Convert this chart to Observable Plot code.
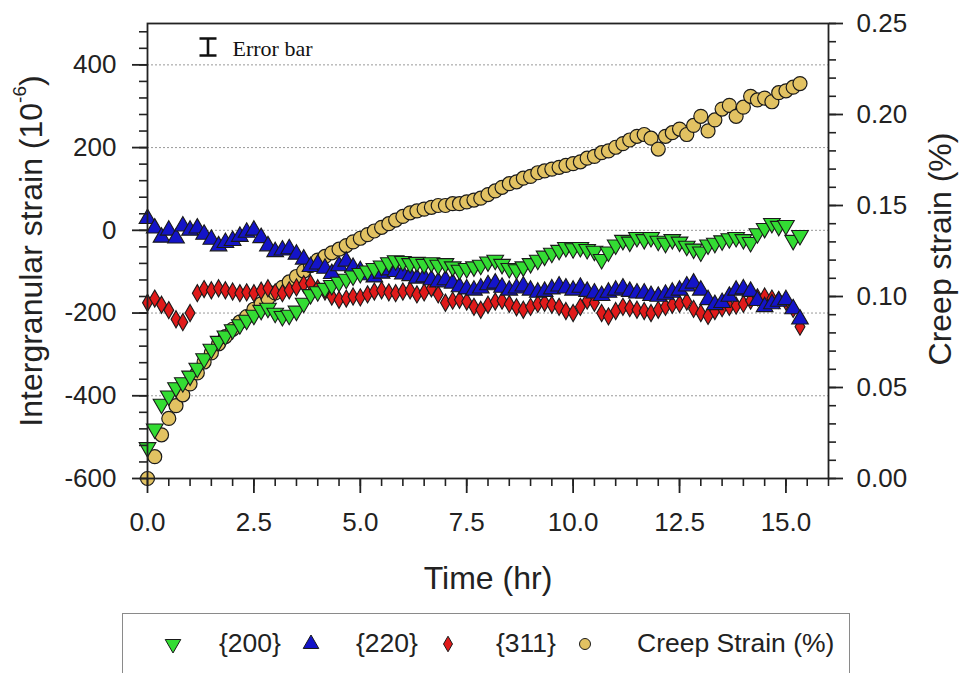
<!DOCTYPE html>
<html>
<head>
<meta charset="utf-8">
<script src="https://cdn.jsdelivr.net/npm/d3@7"></script>
<script src="https://cdn.jsdelivr.net/npm/@observablehq/plot@0.6"></script>
<style>
  body { margin: 0; background: #fff; font-family: "Liberation Sans", Arial, sans-serif; }
  #wrap { position: relative; width: 959px; height: 673px; overflow: hidden; background: #fff; }
  #chart { position: absolute; left: 0; top: 0; }
  #legend { position: absolute; left: 122px; top: 613px; width: 728px; height: 90px; border: 1px solid #8a8a8a; box-sizing: border-box; background: #fff; }
  .sym { position: absolute; top: 20px; width: 20px; height: 20px; }
  .lab { position: absolute; top: 14px; font-size: 26.5px; color: #222; white-space: nowrap; line-height: 30px; }
</style>
</head>
<body>
<div id="wrap">
  <div id="chart"></div>
  <div id="legend"></div>
</div>
<script>
// ---- data ----
const time = [
  0,0.17,0.33,0.5,0.67,0.83,1,1.17,1.33,1.5,
  1.67,1.83,2,2.17,2.33,2.5,2.67,2.83,3,3.17,
  3.33,3.5,3.67,3.83,4,4.17,4.33,4.5,4.67,4.83,
  5,5.17,5.33,5.5,5.67,5.83,6,6.17,6.33,6.5,
  6.67,6.83,7,7.17,7.33,7.5,7.67,7.83,8,8.17,
  8.33,8.5,8.67,8.83,9,9.17,9.33,9.5,9.67,9.83,
  10,10.17,10.33,10.5,10.67,10.83,11,11.17,11.33,11.5,
  11.67,11.83,12,12.17,12.33,12.5,12.67,12.83,13,13.17,
  13.33,13.5,13.67,13.83,14,14.17,14.33,14.5,14.67,14.83,
  15,15.17,15.33
];
const strain200 = [
  -525,-480,-420,-400,-380,-368,-352,-333,-310,-287,
  -268,-255,-240,-228,-217,-205,-193,-188,-200,-208,
  -205,-195,-176,-155,-148,-140,-133,-125,-118,-110,
  -104,-98,-92,-86,-78,-73,-75,-80,-77,-82,
  -78,-84,-80,-88,-96,-92,-88,-84,-76,-72,
  -82,-92,-95,-88,-80,-72,-62,-55,-48,-41,
  -44,-41,-46,-50,-70,-52,-35,-24,-28,-17,
  -22,-17,-26,-31,-22,-28,-38,-45,-52,-35,
  -31,-25,-20,-17,-22,-29,-8,5,17,10,
  12,-24,-12
];
const strain220 = [
  28,5,-17,0,-19,10,0,5,-10,-22,
  -38,-30,-25,-15,-5,0,-18,-38,-52,-48,
  -45,-58,-70,-88,-82,-92,-105,-86,-75,-90,
  -98,-108,-113,-104,-96,-100,-106,-110,-116,-113,
  -120,-125,-120,-128,-137,-142,-145,-140,-132,-128,
  -138,-145,-140,-135,-145,-150,-148,-142,-135,-140,
  -145,-138,-148,-152,-158,-150,-145,-140,-148,-152,
  -152,-158,-160,-155,-150,-145,-135,-128,-145,-168,
  -180,-175,-160,-145,-142,-148,-170,-185,-178,-172,
  -168,-190,-215
];
const strain311 = [
  -175,-165,-180,-193,-215,-222,-200,-152,-142,-145,
  -140,-145,-148,-152,-150,-152,-146,-140,-150,-152,
  -145,-138,-130,-128,-140,-148,-160,-168,-165,-160,
  -162,-155,-148,-145,-150,-152,-148,-145,-155,-150,
  -140,-155,-175,-170,-168,-172,-185,-192,-180,-172,
  -170,-178,-186,-192,-185,-178,-175,-180,-185,-195,
  -200,-185,-170,-175,-200,-208,-195,-185,-188,-192,
  -195,-200,-192,-185,-180,-178,-172,-190,-200,-207,
  -195,-188,-185,-182,-178,-170,-162,-160,-165,-168,
  -172,-190,-233
];
const creepStrain = [
  0.000,0.012,0.024,0.033,0.040,0.046,0.052,0.058,0.064,0.069,
  0.074,0.078,0.082,0.086,0.089,0.093,0.096,0.099,0.102,0.105,
  0.108,0.111,0.114,0.117,0.120,0.122,0.124,0.126,0.128,0.130,
  0.132,0.134,0.136,0.138,0.140,0.142,0.144,0.146,0.147,0.148,
  0.149,0.150,0.150,0.151,0.151,0.152,0.153,0.154,0.156,0.158,
  0.160,0.162,0.163,0.165,0.166,0.168,0.169,0.170,0.171,0.172,
  0.173,0.174,0.176,0.177,0.179,0.180,0.182,0.184,0.186,0.188,
  0.189,0.187,0.181,0.188,0.190,0.192,0.189,0.194,0.199,0.191,
  0.197,0.203,0.205,0.199,0.204,0.210,0.208,0.209,0.207,0.212,
  0.213,0.215,0.217
];
const xTicks = [0, 2.5, 5, 7.5, 10, 12.5, 15];
const leftTicks = [-600, -400, -200, 0, 200, 400];
const gridValues = [-400, -200, 0, 200, 400];
const rightTicks = [0, 0.05, 0.10, 0.15, 0.20, 0.25];
const seriesNames = ["{200}", "{220}", "{311}", "Creep Strain (%)"];
const colors = { g: "#33dc33", b: "#1414c8", r: "#e01a1a", c: "#e2c262" };

// ---- build ----
const rows = time.map((t, i) => ({ t, g: strain200[i], b: strain220[i], r: strain311[i], c: creepStrain[i] }));
const L0 = -600, L1 = 500, R1 = 0.25;
const toLeft = c => L0 + (c / R1) * (L1 - L0);
const fromLeft = v => (v - L0) / (L1 - L0) * R1;

const minorX = d3.range(0, 16.01, 0.5);
const minorLeft = d3.range(-600, 501, 40);
const minorRight = d3.range(0, 0.2501, 0.01).map(toLeft);

const ibeam = {
  draw(ctx, size) {
    const h = Math.sqrt(size / Math.PI);
    ctx.moveTo(-h, -h); ctx.lineTo(h, -h);
    ctx.moveTo(0, -h); ctx.lineTo(0, h);
    ctx.moveTo(-h, h); ctx.lineTo(h, h);
  }
};

const font = "Liberation Sans, Arial, sans-serif";
const ink = "#222";
const edge = "#1a1a1a";

const plot = Plot.plot({
  width: 959,
  height: 600,
  marginLeft: 147,
  marginRight: 131,
  marginTop: 23,
  marginBottom: 122,
  style: { fontFamily: font, color: ink, background: "transparent" },
  x: { domain: [0, 16] },
  y: { domain: [L0, L1] },
  marks: [
    Plot.gridY(gridValues, { stroke: "#999", strokeOpacity: 1, strokeDasharray: "2,2", strokeWidth: 1 }),
    Plot.dot(rows, { x: "t", y: d => toLeft(d.c), r: 7, fill: colors.c, stroke: edge, strokeWidth: 1.2 }),
    Plot.dot(rows, { x: "t", y: "r", symbol: "diamond", r: 5.2, fill: colors.r, stroke: edge, strokeWidth: 1.1 }),
    Plot.dot(rows, { x: "t", y: "b", symbol: "triangle", r: 6.2, fill: colors.b, stroke: edge, strokeWidth: 1.1 }),
    Plot.dot(rows, { x: "t", y: "g", symbol: "triangle", rotate: 180, r: 6.2, fill: colors.g, stroke: edge, strokeWidth: 1.1 }),
    Plot.frame({ stroke: ink, strokeWidth: 1.8 }),
    Plot.axisX({ ticks: xTicks, tickFormat: d3.format(".1f"), tickSize: 15, tickPadding: 19, fontSize: 26, label: null, strokeWidth: 1.8 }),
    Plot.axisX({ ticks: minorX, tickFormat: () => "", tickSize: 8, label: null, strokeWidth: 1.6 }),
    Plot.axisY({ ticks: leftTicks, tickFormat: d => String(d), tickSize: 15, tickPadding: 16, fontSize: 26, label: null, strokeWidth: 1.8 }),
    Plot.axisY({ ticks: minorLeft, tickFormat: () => "", tickSize: 8, label: null, strokeWidth: 1.6 }),
    Plot.axisY({ anchor: "right", ticks: rightTicks.map(toLeft), tickFormat: v => fromLeft(v).toFixed(2), tickSize: 14, tickPadding: 14, fontSize: 26, label: null, strokeWidth: 1.8 }),
    Plot.axisY({ anchor: "right", ticks: minorRight, tickFormat: () => "", tickSize: 7, label: null, strokeWidth: 1.6 }),
    Plot.text(["Time (hr)"], { text: d => d, frameAnchor: "bottom", lineAnchor: "middle", textAnchor: "middle", dy: 100, fontSize: 32, fill: ink }),
    Plot.text(["Creep strain (%)"], { text: d => d, frameAnchor: "right", textAnchor: "middle", lineAnchor: "middle", dx: 112, dy: -2, rotate: -90, fontSize: 32, fill: ink }),
    Plot.dot(["Error bar"], { frameAnchor: "top-left", dx: 60.5, dy: 23.5, symbol: ibeam, r: 8.5, fill: "none", stroke: "#111", strokeWidth: 2.6 }),
    Plot.text(["Error bar"], { text: d => d, frameAnchor: "top-left", dx: 85, dy: 25, textAnchor: "start", lineAnchor: "middle", fontFamily: "Liberation Serif, Times New Roman, serif", fontSize: 22, fill: "#111" })
  ]
});
document.getElementById("chart").appendChild(plot);

// left axis title with superscript
const svg = d3.select(plot);
const lt = svg.append("text")
  .attr("transform", "translate(31,251) rotate(-90)")
  .attr("text-anchor", "middle")
  .attr("dominant-baseline", "central")
  .attr("font-size", 32)
  .attr("fill", ink)
  .attr("font-family", font);
lt.append("tspan").text("Intergranular strain (10");
lt.append("tspan").attr("font-size", 19).attr("dy", -12).text("-6");
lt.append("tspan").attr("dy", 12).text(")");

// legend
const legend = d3.select("#legend");
const symPaths = [
  { col: colors.g, type: d3.symbolTriangle, rot: 180, size: 105 },
  { col: colors.b, type: d3.symbolTriangle, rot: 0, size: 105 },
  { col: colors.r, type: d3.symbolDiamond, rot: 0, size: 70 },
  { col: colors.c, type: d3.symbolCircle, rot: 0, size: 95 }
];
const symX = [50, 188, 325, 462];
const labX = [96, 233, 373, 514];
seriesNames.forEach((name, i) => {
  const s = symPaths[i];
  const sv = legend.append("svg").attr("class", "sym").style("left", (symX[i] - 10) + "px")
    .attr("viewBox", "-10 -10 20 20");
  sv.append("path").attr("d", d3.symbol(s.type, s.size)()).attr("transform", `rotate(${s.rot})`)
    .attr("fill", s.col).attr("stroke", edge).attr("stroke-width", 1);
  legend.append("div").attr("class", "lab").style("left", labX[i] + "px").text(name);
});
</script>
</body>
</html>
